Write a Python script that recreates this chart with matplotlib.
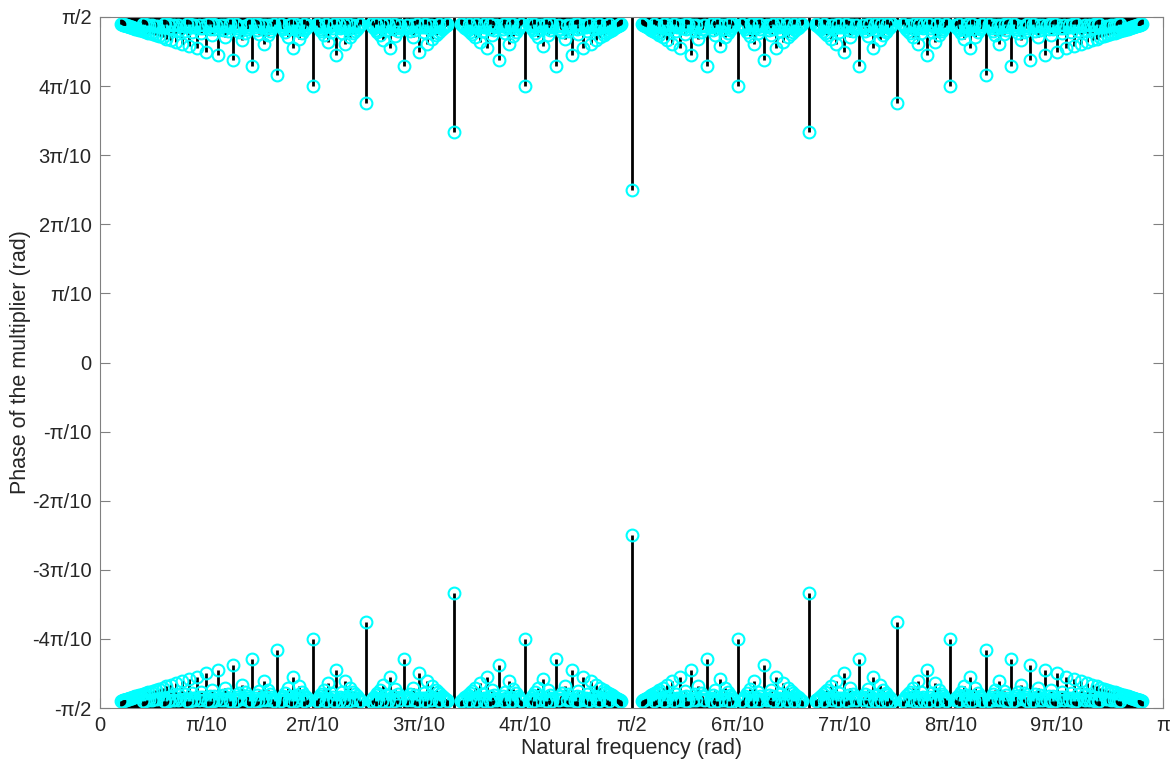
import numpy as np
import matplotlib
matplotlib.use('Agg')
import matplotlib.pyplot as plt
from math import gcd

# frequencies sit at the rational points p*pi/q of (0, pi);
# the multiplier phase for a point with denominator q lies pi/(2q) away from +-pi/2
max_denominator = 50
numerators = []
denominators = []
for q in range(2, max_denominator + 1):
    for p in range(1, q):
        if gcd(p, q) == 1:
            numerators.append(p)
            denominators.append(q)
numerators = np.array(numerators)
denominators = np.array(denominators)

freq = np.pi * numerators / denominators
phase_pos = np.pi / 2 - np.pi / (2 * denominators)
phase_neg = -phase_pos

xtick_vals = [0, np.pi / 10, 2 * np.pi / 10, 3 * np.pi / 10, 4 * np.pi / 10, np.pi / 2,
              6 * np.pi / 10, 7 * np.pi / 10, 8 * np.pi / 10, 9 * np.pi / 10, np.pi]
xtick_labels = ['0', 'π/10', '2π/10', '3π/10', '4π/10', 'π/2',
                '6π/10', '7π/10', '8π/10', '9π/10', 'π']
ytick_vals = [-np.pi / 2, -4 * np.pi / 10, -3 * np.pi / 10, -2 * np.pi / 10, -np.pi / 10, 0,
              np.pi / 10, 2 * np.pi / 10, 3 * np.pi / 10, 4 * np.pi / 10, np.pi / 2]
ytick_labels = ['-π/2', '-4π/10', '-3π/10', '-2π/10', '-π/10', '0',
                'π/10', '2π/10', '3π/10', '4π/10', 'π/2']

plt.rcParams['font.family'] = ['Liberation Sans', 'DejaVu Sans']

fig = plt.figure(figsize=(11.74, 7.69), dpi=100)
ax = fig.add_axes([100 / 1174, 1 - 708 / 769, 1063 / 1174, 691 / 769])

# one stem call per denominator, drawn in order (later ones sit on top)
z = 2
for q in np.unique(denominators):
    m = denominators == q
    ax.vlines(freq[m], phase_pos[m], np.pi / 2, colors='black', lw=2, zorder=z)
    ax.vlines(freq[m], -np.pi / 2, phase_neg[m], colors='black', lw=2, zorder=z)
    ax.plot(freq[m], phase_pos[m], 'o', mfc='none', mec='cyan', ms=8.5, mew=1.5, zorder=z + 0.5)
    ax.plot(freq[m], phase_neg[m], 'o', mfc='none', mec='cyan', ms=8.5, mew=1.5, zorder=z + 0.5)
    z += 1

ax.set_xlim(0, np.pi)
ax.set_ylim(-np.pi / 2, np.pi / 2)
ax.set_xticks(xtick_vals)
ax.set_xticklabels(xtick_labels)
ax.set_yticks(ytick_vals)
ax.set_yticklabels(ytick_labels)
ax.tick_params(direction='in', length=7, width=0.8, color='#808080', labelsize=14.5,
               labelcolor='#262626', top=True, right=True, pad=6)
for s in ax.spines.values():
    s.set_color('#808080')
    s.set_linewidth(0.8)
    s.set_zorder(500)

ax.set_xlabel('Natural frequency (rad)', fontsize=15.5, color='#262626', labelpad=2)
ax.set_ylabel('Phase of the multiplier (rad)', fontsize=15.5, color='#262626', labelpad=1)

fig.savefig('out.png', dpi=100)
